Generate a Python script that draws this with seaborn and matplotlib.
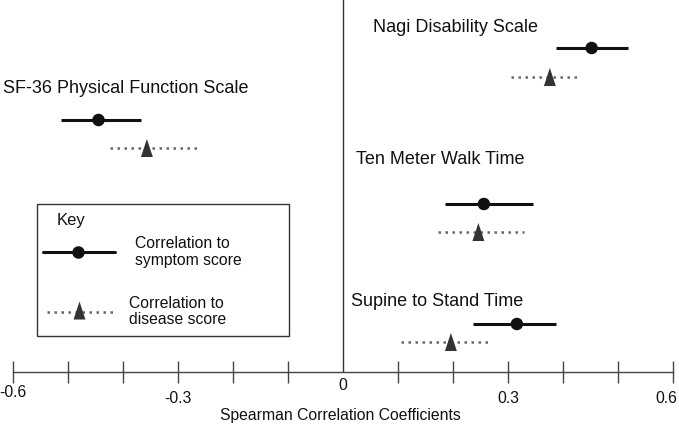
import matplotlib
matplotlib.use("Agg")
import matplotlib.pyplot as plt
from matplotlib.lines import Line2D
from matplotlib.patches import Rectangle
from matplotlib.transforms import ScaledTranslation
import seaborn as sns
import pandas as pd

# values
measures = ["Nagi Disability Scale", "SF-36 Physical Function Scale",
            "Ten Meter Walk Time", "Supine to Stand Time"]
symptom_r = [0.452, -0.445, 0.256, 0.316]
symptom_lo = [0.387, -0.514, 0.186, 0.236]
symptom_hi = [0.519, -0.368, 0.346, 0.387]
disease_r = [0.376, -0.357, 0.246, 0.196]
disease_lo = [0.305, -0.425, 0.173, 0.105]
disease_hi = [0.432, -0.265, 0.329, 0.269]

major_ticks = [-0.6, -0.3, 0, 0.3, 0.6]
major_labels = ["-0.6", "-0.3", "0", "0.3", "0.6"]
minor_ticks = [-0.5, -0.4, -0.2, -0.1, 0.1, 0.2, 0.4, 0.5]

key_labels = ["Correlation to\nsymptom score", "Correlation to\ndisease score"]

# layout (vertical rows, in pixel-like units from the top)
row_sym = [48, 120, 204, 324]
row_dis = [77, 148, 232, 342]
name_y = [27, 88, 160, 302]
name_x = [0.055, -0.619, 0.024, 0.015]

df = pd.DataFrame({
    "measure": measures * 2,
    "r": symptom_r + disease_r,
    "lo": symptom_lo + disease_lo,
    "hi": symptom_hi + disease_hi,
    "row": row_sym + row_dis,
    "kind": ["symptom"] * 4 + ["disease"] * 4,
})

sns.set_style("white")
plt.rcParams["font.family"] = ["Liberation Sans", "DejaVu Sans"]

W, H = 679, 425
fig = plt.figure(figsize=(W / 100, H / 100), dpi=100)
ax = fig.add_axes([13.3 / W, 53.3 / H, (673 - 13.3) / W, 371.7 / H])

sym = df[df.kind == "symptom"]
dis = df[df.kind == "disease"]

dotted = (0, (1, 1.8))
tri = [(-0.66, -1), (0.66, -1), (0, 1)]

ax.hlines(sym.row, sym.lo, sym.hi, color="#111111", lw=2.2, zorder=2)
ax.hlines(dis.row, dis.lo, dis.hi, color="#666666", lw=1.8,
          linestyles=dotted, zorder=2)

sns.scatterplot(data=sym, x="r", y="row", marker="o", s=81, color="#111111",
                edgecolor="none", ax=ax, zorder=3, legend=False)
sns.scatterplot(data=dis, x="r", y="row", marker=tri, s=169, color="#333333",
                edgecolor="none", ax=ax, zorder=3, legend=False)

for name, x, y in zip(measures, name_x, name_y):
    ax.text(x, y, name, ha="left", va="center", fontsize=13, color="#111111",
            clip_on=False)

ax.set_xlim(-0.6, 0.6)
ax.set_ylim(371.7, 0)
ax.axvline(0, color="#333333", lw=1, zorder=1)

for s in ["top", "right", "left"]:
    ax.spines[s].set_visible(False)
ax.spines["bottom"].set_color("#444444")
ax.spines["bottom"].set_linewidth(1)

ax.set_yticks([])
ax.set_ylabel("")
ax.set_xticks(major_ticks)
ax.set_xticklabels(major_labels, fontsize=11.3)
ax.set_xticks(minor_ticks, minor=True)
ax.tick_params(axis="x", which="both", direction="inout", length=16, width=1,
               color="#444444", labelcolor="#111111", bottom=True)
pads = [1.6, 5.7, -3.6, 5.7, 5.7]
major = ax.xaxis.get_major_ticks()
for t, p in zip(major, pads):
    t.set_pad(p)
major[2].tick1line.set_visible(False)
lab = major[-1].label1
lab.set_transform(lab.get_transform() + ScaledTranslation(-0.063, 0, fig.dpi_scale_trans))

ax.set_xlabel("Spearman Correlation Coefficients", fontsize=11.3, color="#111111")
ax.xaxis.set_label_coords(0.496, -0.098)


# key box, drawn in figure pixels
def fx(x):
    return x / W


def fy(y):
    return 1 - y / H


tf = fig.transFigure
fig.add_artist(Rectangle((fx(37.3), fy(335.7)), fx(289.3) - fx(37.3), fy(204.3) - fy(335.7),
                         transform=tf, fill=False, edgecolor="#333333", lw=1))
fig.text(fx(57), fy(220), "Key", fontsize=12, va="center", ha="left", color="#111111")
fig.add_artist(Line2D([fx(43), fx(115)], [fy(251.7)] * 2, transform=tf,
                      color="#111111", lw=2.2))
fig.add_artist(Line2D([fx(78)], [fy(251.7)], transform=tf, marker="o",
                      markersize=9, color="#111111", markeredgecolor="none"))
fig.add_artist(Line2D([fx(47), fx(117)], [fy(312)] * 2, transform=tf,
                      color="#666666", lw=1.8, linestyle=dotted))
fig.add_artist(Line2D([fx(79.3)], [fy(309.5)], transform=tf, marker=tri,
                      markersize=13, color="#333333", markeredgecolor="none"))
fig.text(fx(135), fy(252), key_labels[0], fontsize=11.3, va="center", ha="left",
         linespacing=1.14, color="#111111")
fig.text(fx(129), fy(311.5), key_labels[1], fontsize=11.3, va="center", ha="left",
         linespacing=1.14, color="#111111")

fig.savefig("out.png", dpi=100)
